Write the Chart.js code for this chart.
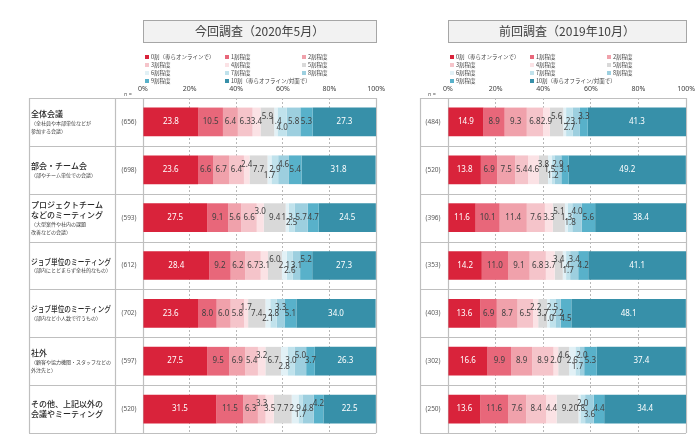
<!DOCTYPE html>
<html>
<head>
<meta charset="utf-8">
<script src="https://cdn.jsdelivr.net/npm/chart.js@4"></script>
<style>
  html, body { margin: 0; padding: 0; background: #fff; }
  #wrap { position: relative; width: 700px; height: 436px; }
  .panel { position: absolute; top: 0; height: 436px; }
</style>
</head>
<body>
<div id="wrap">
  <div class="panel" style="left:0;width:390px"><canvas id="nowChart" width="390" height="436"></canvas></div>
  <div class="panel" style="left:390px;width:310px"><canvas id="prevChart" width="310" height="436"></canvas></div>
</div>
<script>
const levels = [
  "0割（専らオンラインで）", "1割程度", "2割程度",
  "3割程度", "4割程度", "5割程度",
  "6割程度", "7割程度", "8割程度",
  "9割程度", "10割（専らオフライン/対面で）",
];
const levelColors = [
  "#d9233b", "#e8677a", "#f0a1ab", "#f5c4ca", "#fbe2e5", "#d9d9d9",
  "#e2f1f6", "#c0e2ec", "#9dcfdf", "#58b1ca", "#3790a9",
];
const tickLabels = ["0%", "20%", "40%", "60%", "80%", "100%"];

const categoryMain = [
  ["全体会議"],
  ["部会・チーム会"],
  ["プロジェクトチーム", "などのミーティング"],
  ["ジョブ単位のミーティング"],
  ["ジョブ単位のミーティング"],
  ["社外"],
  ["その他、上記以外の", "会議やミーティング"],
];
const categorySub = [
  ["（全社員や本部単位などが", "参加する会議）"],
  ["（部やチーム単位での会議）"],
  ["（大型案件や社内の課題", "改善などの会議）"],
  ["（部内にとどまらず全社的なもの）"],
  ["（部内など小人数で行うもの）"],
  ["（顧客や協力機関・スタッフなどの", "外注先と）"],
  [],
];

// 今回調査（2020年5月） one row per category, 0割 .. 10割
const nNow = [656, 698, 593, 612, 702, 597, 520];
const rowsNow = [
  [23.8, 10.5, 6.4, 6.3, 3.4, 5.9, 1.4, 4.0, 5.8, 5.3, 27.3],
  [23.6, 6.6, 6.7, 6.4, 2.4, 7.7, 1.7, 2.9, 4.6, 5.4, 31.8],
  [27.5, 9.1, 5.6, 6.6, 3.0, 9.4, 1.3, 2.5, 5.7, 4.7, 24.5],
  [28.4, 9.2, 6.2, 6.7, 3.1, 6.0, 2.1, 2.6, 3.1, 5.2, 27.3],
  [23.6, 8.0, 6.0, 5.8, 1.7, 7.4, 2.1, 2.8, 3.3, 5.1, 34.0],
  [27.5, 9.5, 6.9, 5.4, 3.2, 6.7, 2.8, 3.0, 5.0, 3.7, 26.3],
  [31.5, 11.5, 6.3, 3.3, 3.5, 7.7, 2.9, 1.7, 4.8, 4.2, 22.5],
];

// 前回調査（2019年10月）
const nPrev = [484, 520, 396, 353, 403, 302, 250];
const rowsPrev = [
  [14.9, 8.9, 9.3, 6.8, 2.9, 5.6, 1.2, 2.7, 3.1, 3.3, 41.3],
  [13.8, 6.9, 7.5, 5.4, 4.6, 3.8, 1.5, 1.2, 2.9, 3.1, 49.2],
  [11.6, 10.1, 11.4, 7.6, 3.3, 5.1, 1.3, 1.8, 4.0, 5.6, 38.4],
  [14.2, 11.0, 9.1, 6.8, 3.7, 3.4, 1.4, 1.7, 3.4, 4.2, 41.1],
  [13.6, 6.9, 8.7, 6.5, 2.2, 3.7, 1.0, 2.5, 2.2, 4.5, 48.1],
  [16.6, 9.9, 8.9, 8.9, 2.0, 4.6, 2.6, 1.7, 2.0, 5.3, 37.4],
  [13.6, 11.6, 7.6, 8.4, 4.4, 9.2, 0.8, 2.0, 3.6, 4.4, 34.4],
];

const JP = "'Noto Sans CJK JP', sans-serif";
const NUM = "'Noto Sans', sans-serif";
const LINE = "#bfbfbf";

// draws the table frame, category texts, title box, legend and value labels
const tablePlugin = {
  id: "table",
  beforeDatasetsDraw(chart, args, o) {
    const ctx = chart.ctx;
    const area = chart.chartArea;
    const yScale = chart.scales.y;
    const n = chart.data.labels.length;
    const rowH = (area.bottom - area.top) / n;
    ctx.save();
    ctx.strokeStyle = LINE;
    ctx.lineWidth = 1.2;
    for (let i = 0; i <= n; i++) {
      const y = Math.round(area.top + i * rowH) + 0.5;
      ctx.beginPath();
      ctx.moveTo(o.tableLeft, y);
      ctx.lineTo(area.right, y);
      ctx.stroke();
    }
    const xs = [o.tableLeft, area.left, area.right].concat(o.divider ? [o.divider] : []);
    xs.forEach((x) => {
      ctx.beginPath();
      ctx.moveTo(Math.round(x) + 0.5, area.top);
      ctx.lineTo(Math.round(x) + 0.5, area.bottom);
      ctx.stroke();
    });

    // title box
    ctx.fillStyle = "#f2f2f2";
    ctx.fillRect(area.left, 20, area.right - area.left, 22);
    ctx.strokeStyle = "#a6a6a6";
    ctx.lineWidth = 1;
    ctx.strokeRect(Math.round(area.left) + 0.5, 20.5, Math.round(area.right - area.left), 22);
    ctx.fillStyle = "#404040";
    ctx.font = "12px " + JP;
    ctx.textAlign = "center";
    ctx.textBaseline = "middle";
    ctx.fillText(o.title, (area.left + area.right) / 2, 31.5);

    // legend, 3 columns
    ctx.font = "5.5px " + JP;
    ctx.textAlign = "left";
    chart.data.datasets.forEach((ds, j) => {
      const x = area.left + [2, 82, 159][j % 3];
      const y = 57 + Math.floor(j / 3) * 8;
      ctx.fillStyle = ds.backgroundColor;
      ctx.fillRect(x, y - 2, 4, 4);
      ctx.fillStyle = "#404040";
      ctx.fillText(ds.label, x + 6, y);
    });

    // n column
    ctx.fillStyle = "#595959";
    ctx.font = "5.5px " + NUM;
    ctx.textAlign = "center";
    ctx.fillText("n =", o.nX - 1, 94);
    ctx.font = "6.5px " + NUM;
    o.counts.forEach((c, i) => {
      ctx.fillText("(" + c + ")", o.nX, yScale.getPixelForValue(i));
    });

    // category labels (left panel only)
    if (o.showCategories) {
      ctx.textAlign = "left";
      const maxW = o.divider - o.tableLeft - 6;
      categoryMain.forEach((main, i) => {
        const sub = categorySub[i];
        const total = main.length * 10 + sub.length * 8;
        let y = yScale.getPixelForValue(i) - total / 2;
        ctx.fillStyle = "#262626";
        ctx.font = "500 8px " + JP;
        main.forEach((t) => { ctx.fillText(t, o.tableLeft + 2, y + 5, maxW); y += 10; });
        ctx.fillStyle = "#404040";
        ctx.font = "5px " + JP;
        sub.forEach((t) => { ctx.fillText(t, o.tableLeft + 2, y + 4, maxW); y += 8; });
      });
    }
    ctx.restore();
  },
  afterDatasetsDraw(chart) {
    const ctx = chart.ctx;
    const sets = chart.data.datasets;
    ctx.save();
    ctx.font = "8px " + NUM;
    ctx.textAlign = "center";
    ctx.textBaseline = "middle";
    chart.data.labels.forEach((_, i) => {
      // labels that would collide get nudged up / down, alternating
      const lastRight = { "0": -1e9, "-1": -1e9, "1": -1e9 };
      let nextDir = -1;
      sets.forEach((ds, j) => {
        const bar = chart.getDatasetMeta(j).data[i];
        const txt = ds.data[i].toFixed(1);
        const cx = (bar.x + bar.base) / 2;
        const w = ctx.measureText(txt).width;
        let lvl = [0, nextDir, -nextDir].find((l) => cx - w / 2 >= lastRight[l]);
        if (lvl === undefined) lvl = nextDir;
        if (lvl !== 0) nextDir = -lvl;
        lastRight[lvl] = cx + w / 2;
        ctx.fillStyle = j === 0 || j === sets.length - 1 ? "#ffffff" : "#404040";
        ctx.fillText(txt, cx, bar.y + lvl * 5.5);
      });
    });
    ctx.restore();
  },
};

function makeChart(id, rows, counts, opt) {
  const datasets = levels.map((lab, j) => ({
    label: lab,
    data: rows.map((r) => r[j]),
    backgroundColor: levelColors[j],
    borderWidth: 0,
    categoryPercentage: 1,
    barPercentage: 0.6,
  }));
  return new Chart(document.getElementById(id), {
    type: "bar",
    data: { labels: categoryMain.map((m) => m.join("")), datasets: datasets },
    plugins: [tablePlugin],
    options: {
      indexAxis: "y",
      responsive: false,
      animation: false,
      layout: { padding: { left: opt.left, right: opt.right, top: 84, bottom: 3 } },
      plugins: {
        legend: { display: false },
        tooltip: { enabled: false },
        table: Object.assign({ counts: counts }, opt),
      },
      scales: {
        x: {
          position: "top",
          stacked: true,
          min: 0,
          max: 100,
          ticks: {
            stepSize: 20,
            padding: 5,
            color: "#404040",
            font: { size: 7, family: NUM },
            callback: (v) => tickLabels[v / 20],
          },
          grid: {
            drawTicks: false,
            lineWidth: 0.8,
            color: (c) => (c.tick && (c.tick.value === 0 || c.tick.value === 100) ? "rgba(0,0,0,0)" : "#a6a6a6"),
          },
          border: { display: false, dash: [2, 2] },
          afterFit: (s) => { s.height = 14; },
        },
        y: { stacked: true, display: false },
      },
    },
  });
}

makeChart("nowChart", rowsNow, nNow, {
  left: 143, right: 8, tableLeft: 29, divider: 115, nX: 129,
  title: "今回調査（2020年5月）", showCategories: true,
});
makeChart("prevChart", rowsPrev, nPrev, {
  left: 58, right: 12, tableLeft: 30, divider: null, nX: 43,
  title: "前回調査（2019年10月）", showCategories: false,
});
</script>
</body>
</html>
